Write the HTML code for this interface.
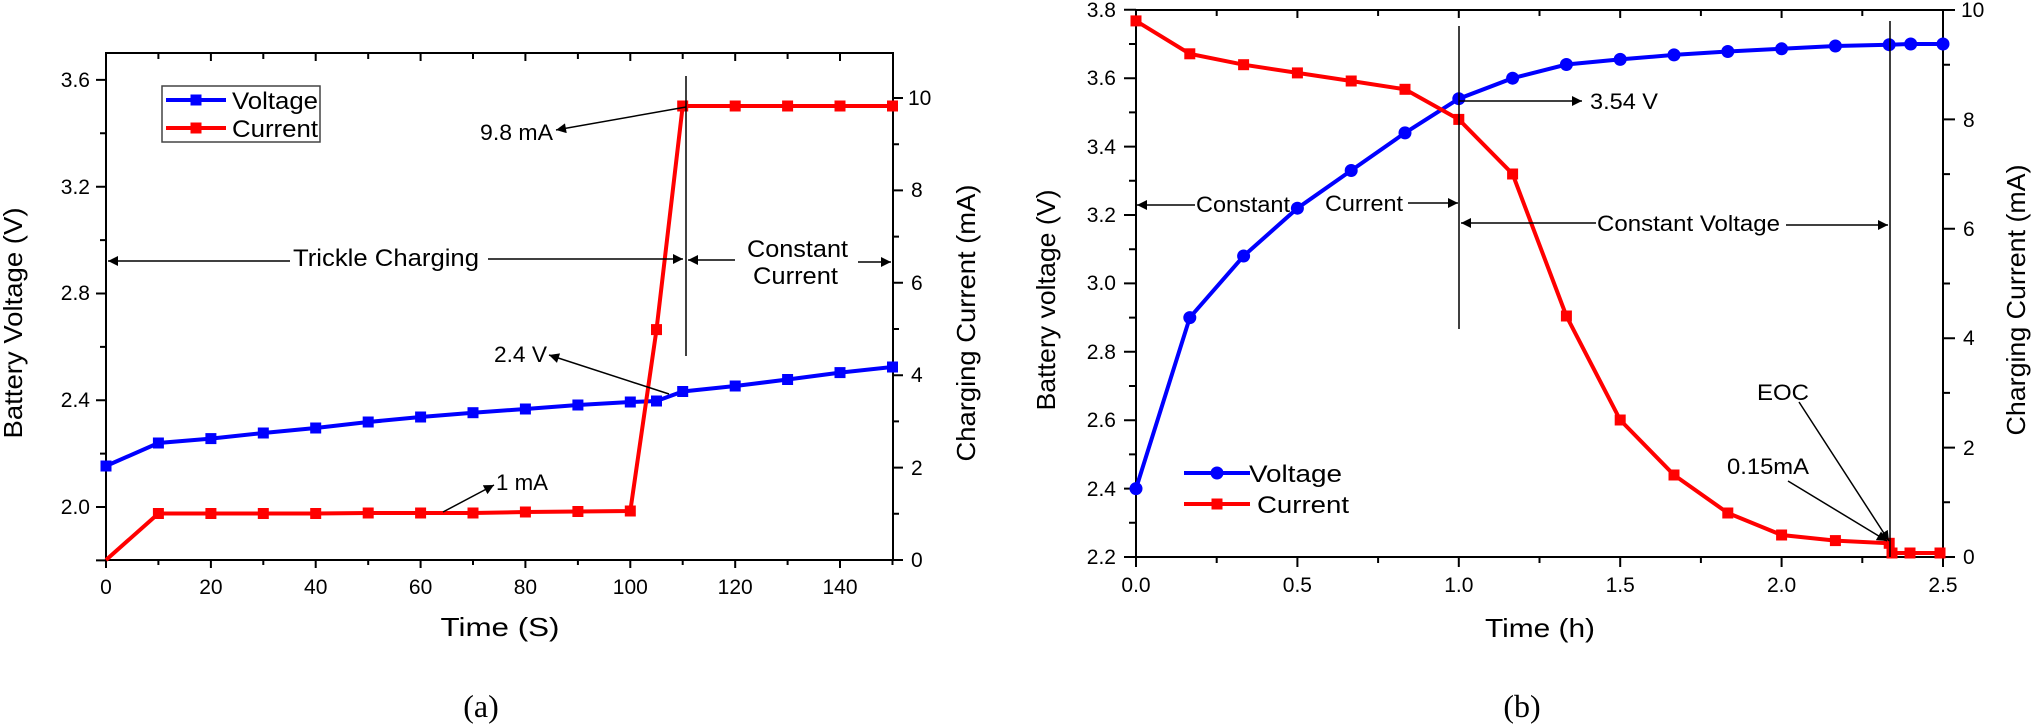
<!DOCTYPE html>
<html><head><meta charset="utf-8"><style>
html,body{margin:0;padding:0;background:#fff;}
svg{display:block;font-family:"Liberation Sans",Arial,sans-serif;}
</style></head><body>
<svg width="2031" height="725" viewBox="0 0 2031 725" xmlns="http://www.w3.org/2000/svg">
<defs>
<marker id="ah" viewBox="0 0 10 10" refX="10" refY="5" markerWidth="14" markerHeight="10" markerUnits="userSpaceOnUse" orient="auto"><path d="M0,0 L10,5 L0,10 z" fill="#000"/></marker>
<g id="sqA"><rect x="-5.5" y="-5.5" width="11" height="11"/></g>
</defs>

<!-- ================= (a) ================= -->
<g stroke="#000" stroke-width="2" fill="none">
<rect x="106" y="53" width="787" height="507"/>
<!-- bottom ticks -->
<path d="M106,560v8 M210.9,560v8 M315.7,560v8 M420.6,560v8 M525.4,560v8 M630.3,560v8 M735.2,560v8 M840,560v8
M158.4,560v5 M263.3,560v5 M368.2,560v5 M473,560v5 M577.9,560v5 M682.7,560v5 M787.6,560v5 M892.5,560v5"/>
<!-- top ticks -->
<path d="M210.9,53v8 M315.7,53v8 M420.6,53v8 M525.4,53v8 M630.3,53v8 M735.2,53v8 M840,53v8
M158.4,53v6 M263.3,53v6 M368.2,53v6 M473,53v6 M577.9,53v6 M682.7,53v6 M787.6,53v6"/>
<!-- left ticks -->
<path d="M106,560.4h-10 M106,507h-10 M106,400.2h-10 M106,293.5h-10 M106,186.7h-10 M106,79.9h-10
M106,453.6h-6 M106,346.9h-6 M106,240.1h-6 M106,133.3h-6"/>
<!-- right ticks -->
<path d="M893,560h10 M893,467.6h10 M893,375.2h10 M893,282.8h10 M893,190.4h10 M893,98h10
M893,513.8h6 M893,421.4h6 M893,329h6 M893,236.6h6 M893,144.2h6"/>
</g>
<g font-size="21" fill="#000" text-anchor="end">
<text x="90" y="514">2.0</text><text x="90" y="407">2.4</text><text x="90" y="300">2.8</text><text x="90" y="194">3.2</text><text x="90" y="87">3.6</text>
</g>
<g font-size="21" fill="#000" text-anchor="start">
<text x="911" y="567">0</text><text x="911" y="475">2</text><text x="911" y="382">4</text><text x="911" y="290">6</text><text x="911" y="197">8</text><text x="908" y="105">10</text>
</g>
<g font-size="21" fill="#000" text-anchor="middle">
<text x="106" y="594">0</text><text x="210.9" y="594">20</text><text x="315.7" y="594">40</text><text x="420.6" y="594">60</text><text x="525.4" y="594">80</text><text x="630.3" y="594">100</text><text x="735.2" y="594">120</text><text x="840" y="594">140</text>
</g>
<text x="500" y="636" font-size="26" text-anchor="middle" textLength="119" lengthAdjust="spacingAndGlyphs">Time (S)</text>
<text transform="translate(22,323) rotate(-90)" font-size="26" text-anchor="middle" textLength="231" lengthAdjust="spacingAndGlyphs">Battery Voltage (V)</text>
<text transform="translate(975,323) rotate(-90)" font-size="26" text-anchor="middle" textLength="277" lengthAdjust="spacingAndGlyphs">Charging Current (mA)</text>
<text x="481" y="717" font-family="Liberation Serif,serif" font-size="32" text-anchor="middle">(a)</text>

<!-- series a -->
<polyline fill="none" stroke="#0000ff" stroke-width="4" points="106,466 158.4,443 210.9,438.6 263.3,433 315.7,428 368.2,422 420.6,417 473,412.7 525.4,409 577.9,405 630.3,402 656.5,401 682.7,391.5 735.2,386 787.6,379.5 840,372.6 892.5,367"/>
<g fill="#0000ff">
<use href="#sqA" x="106" y="466"/><use href="#sqA" x="158.4" y="443"/><use href="#sqA" x="210.9" y="438.6"/><use href="#sqA" x="263.3" y="433"/><use href="#sqA" x="315.7" y="428"/><use href="#sqA" x="368.2" y="422"/><use href="#sqA" x="420.6" y="417"/><use href="#sqA" x="473" y="412.7"/><use href="#sqA" x="525.4" y="409"/><use href="#sqA" x="577.9" y="405"/><use href="#sqA" x="630.3" y="402"/><use href="#sqA" x="656.5" y="401"/><use href="#sqA" x="682.7" y="391.5"/><use href="#sqA" x="735.2" y="386"/><use href="#sqA" x="787.6" y="379.5"/><use href="#sqA" x="840" y="372.6"/><use href="#sqA" x="892.5" y="367"/>
</g>
<polyline fill="none" stroke="#ff0000" stroke-width="4" points="106,560 158.4,513.5 210.9,513.5 263.3,513.5 315.7,513.5 368.2,513 420.6,513 473,513 525.4,512 577.9,511.5 630.3,511 656.5,329.6 682.7,106 735.2,106 787.6,106 840,106 892.5,106"/>
<g fill="#ff0000">
<use href="#sqA" x="158.4" y="513.5"/><use href="#sqA" x="210.9" y="513.5"/><use href="#sqA" x="263.3" y="513.5"/><use href="#sqA" x="315.7" y="513.5"/><use href="#sqA" x="368.2" y="513"/><use href="#sqA" x="420.6" y="513"/><use href="#sqA" x="473" y="513"/><use href="#sqA" x="525.4" y="512"/><use href="#sqA" x="577.9" y="511.5"/><use href="#sqA" x="630.3" y="511"/><use href="#sqA" x="656.5" y="329.6"/><use href="#sqA" x="682.7" y="106"/><use href="#sqA" x="735.2" y="106"/><use href="#sqA" x="787.6" y="106"/><use href="#sqA" x="840" y="106"/><use href="#sqA" x="892.5" y="106"/>
</g>
<!-- legend a -->
<rect x="162" y="86" width="158" height="56" fill="#fff" stroke="#444" stroke-width="1.5"/>
<line x1="166" y1="100" x2="226" y2="100" stroke="#0000ff" stroke-width="4"/><use href="#sqA" x="196" y="100" fill="#0000ff"/>
<line x1="166" y1="128" x2="226" y2="128" stroke="#ff0000" stroke-width="4"/><use href="#sqA" x="196" y="128" fill="#ff0000"/>
<text x="232" y="109" font-size="24" textLength="86" lengthAdjust="spacingAndGlyphs">Voltage</text>
<text x="232" y="137" font-size="24" textLength="86" lengthAdjust="spacingAndGlyphs">Current</text>
<!-- annotations a -->
<g stroke="#000" stroke-width="1.5" fill="none">
<line x1="686" y1="76" x2="686" y2="356"/>
<line x1="686" y1="107" x2="556" y2="130" marker-end="url(#ah)"/>
<line x1="290" y1="261" x2="108" y2="261" marker-end="url(#ah)"/>
<line x1="488" y1="259" x2="683" y2="259" marker-end="url(#ah)"/>
<line x1="735" y1="260" x2="688" y2="260" marker-end="url(#ah)"/>
<line x1="858" y1="262" x2="891" y2="262" marker-end="url(#ah)"/>
<line x1="669" y1="394" x2="549" y2="355" marker-end="url(#ah)"/>
<line x1="443" y1="512" x2="494" y2="485" marker-end="url(#ah)"/>
</g>
<g font-size="22" fill="#000">
<text x="480" y="140" textLength="73" lengthAdjust="spacingAndGlyphs">9.8 mA</text>
<text x="293" y="266" font-size="24" textLength="186" lengthAdjust="spacingAndGlyphs">Trickle Charging</text>
<text x="747" y="257" font-size="24" textLength="101" lengthAdjust="spacingAndGlyphs">Constant</text>
<text x="753" y="284" font-size="24" textLength="85" lengthAdjust="spacingAndGlyphs">Current</text>
<text x="494" y="362" textLength="53" lengthAdjust="spacingAndGlyphs">2.4 V</text>
<text x="496" y="490" textLength="52" lengthAdjust="spacingAndGlyphs">1 mA</text>
</g>

<!-- ================= (b) ================= -->
<g stroke="#000" stroke-width="2" fill="none">
<rect x="1136" y="10" width="807" height="547"/>
<path d="M1136,557v10 M1297.4,557v10 M1458.8,557v10 M1620.2,557v10 M1781.6,557v10 M1943,557v10
M1216.7,557v6 M1378.1,557v6 M1539.5,557v6 M1700.9,557v6 M1862.3,557v6"/>
<path d="M1297.4,10v8 M1458.8,10v8 M1620.2,10v8 M1781.6,10v8
M1216.7,10v6 M1378.1,10v6 M1539.5,10v6 M1700.9,10v6 M1862.3,10v6"/>
<path d="M1136,557h-12 M1136,488.6h-12 M1136,420.2h-12 M1136,351.8h-12 M1136,283.4h-12 M1136,215h-12 M1136,146.6h-12 M1136,78.2h-12 M1136,9.8h-12
M1136,522.8h-7 M1136,454.4h-7 M1136,386h-7 M1136,317.6h-7 M1136,249.2h-7 M1136,180.8h-7 M1136,112.4h-7 M1136,44h-7"/>
<path d="M1943,557h12 M1943,447.6h12 M1943,338.2h12 M1943,228.8h12 M1943,119.4h12 M1943,10h12
M1943,502.3h7 M1943,392.9h7 M1943,283.5h7 M1943,174.1h7 M1943,64.7h7"/>
</g>
<g font-size="21" fill="#000" text-anchor="end">
<text x="1116" y="564">2.2</text><text x="1116" y="496">2.4</text><text x="1116" y="427">2.6</text><text x="1116" y="359">2.8</text><text x="1116" y="290">3.0</text><text x="1116" y="222">3.2</text><text x="1116" y="154">3.4</text><text x="1116" y="85">3.6</text><text x="1116" y="17">3.8</text>
</g>
<g font-size="21" fill="#000">
<text x="1963" y="564">0</text><text x="1963" y="455">2</text><text x="1963" y="345">4</text><text x="1963" y="236">6</text><text x="1963" y="127">8</text><text x="1961" y="17">10</text>
</g>
<g font-size="21" fill="#000" text-anchor="middle">
<text x="1136" y="592">0.0</text><text x="1297.4" y="592">0.5</text><text x="1458.8" y="592">1.0</text><text x="1620.2" y="592">1.5</text><text x="1781.6" y="592">2.0</text><text x="1943" y="592">2.5</text>
</g>
<text x="1540" y="637" font-size="26" text-anchor="middle" textLength="110" lengthAdjust="spacingAndGlyphs">Time (h)</text>
<text transform="translate(1055,300) rotate(-90)" font-size="26" text-anchor="middle" textLength="221" lengthAdjust="spacingAndGlyphs">Battery voltage (V)</text>
<text transform="translate(2025,300) rotate(-90)" font-size="26" text-anchor="middle" textLength="271" lengthAdjust="spacingAndGlyphs">Charging Current (mA)</text>
<text x="1522" y="717" font-family="Liberation Serif,serif" font-size="32" text-anchor="middle">(b)</text>

<!-- series b -->
<polyline fill="none" stroke="#0000ff" stroke-width="4" points="1136,488.6 1189.8,317.6 1243.6,256 1297.4,208.2 1351.2,170.5 1405,132.9 1458.8,98.7 1512.6,78.2 1566.4,64.5 1620.2,59.4 1674,54.9 1727.8,51.5 1781.6,48.8 1835.4,46 1889.2,44.7 1910.7,44 1943,44"/>
<g fill="#0000ff">
<circle cx="1136" cy="488.6" r="6.5"/><circle cx="1189.8" cy="317.6" r="6.5"/><circle cx="1243.6" cy="256" r="6.5"/><circle cx="1297.4" cy="208.2" r="6.5"/><circle cx="1351.2" cy="170.5" r="6.5"/><circle cx="1405" cy="132.9" r="6.5"/><circle cx="1458.8" cy="98.7" r="6.5"/><circle cx="1512.6" cy="78.2" r="6.5"/><circle cx="1566.4" cy="64.5" r="6.5"/><circle cx="1620.2" cy="59.4" r="6.5"/><circle cx="1674" cy="54.9" r="6.5"/><circle cx="1727.8" cy="51.5" r="6.5"/><circle cx="1781.6" cy="48.8" r="6.5"/><circle cx="1835.4" cy="46" r="6.5"/><circle cx="1889.2" cy="44.7" r="6.5"/><circle cx="1910.7" cy="44" r="6.5"/><circle cx="1943" cy="44" r="6.5"/>
</g>
<polyline fill="none" stroke="#ff0000" stroke-width="4" points="1136,20.9 1189.8,53.8 1243.6,64.7 1297.4,72.9 1351.2,81 1405,89.3 1458.8,119.4 1512.6,174 1566.4,316 1620.2,420 1674,475 1727.8,513 1781.6,535 1835.4,540.6 1889.2,543.3 1892,553 1910,553 1940,553"/>
<g fill="#ff0000">
<use href="#sqA" x="1136" y="20.9"/><use href="#sqA" x="1189.8" y="53.8"/><use href="#sqA" x="1243.6" y="64.7"/><use href="#sqA" x="1297.4" y="72.9"/><use href="#sqA" x="1351.2" y="81"/><use href="#sqA" x="1405" y="89.3"/><use href="#sqA" x="1458.8" y="119.4"/><use href="#sqA" x="1512.6" y="174"/><use href="#sqA" x="1566.4" y="316"/><use href="#sqA" x="1620.2" y="420"/><use href="#sqA" x="1674" y="475"/><use href="#sqA" x="1727.8" y="513"/><use href="#sqA" x="1781.6" y="535"/><use href="#sqA" x="1835.4" y="540.6"/><use href="#sqA" x="1889.2" y="543.3"/><use href="#sqA" x="1892" y="553"/><use href="#sqA" x="1910" y="553"/><use href="#sqA" x="1940" y="553"/>
</g>
<!-- legend b -->
<line x1="1184" y1="473" x2="1250" y2="473" stroke="#0000ff" stroke-width="4"/><circle cx="1217" cy="473" r="6.5" fill="#0000ff"/>
<line x1="1184" y1="504" x2="1250" y2="504" stroke="#ff0000" stroke-width="4"/><use href="#sqA" x="1217" y="504" fill="#ff0000"/>
<text x="1249" y="482" font-size="24" textLength="93" lengthAdjust="spacingAndGlyphs">Voltage</text>
<text x="1257" y="513" font-size="24" textLength="92" lengthAdjust="spacingAndGlyphs">Current</text>
<!-- annotations b -->
<g stroke="#000" stroke-width="1.5" fill="none">
<line x1="1459" y1="26" x2="1459" y2="329"/>
<line x1="1890" y1="21" x2="1890" y2="557"/>
<line x1="1459" y1="101" x2="1582" y2="101" marker-end="url(#ah)"/>
<line x1="1195" y1="205" x2="1137" y2="205" marker-end="url(#ah)"/>
<line x1="1408" y1="203" x2="1458" y2="203" marker-end="url(#ah)"/>
<line x1="1596" y1="223" x2="1461" y2="223" marker-end="url(#ah)"/>
<line x1="1786" y1="225" x2="1888" y2="225" marker-end="url(#ah)"/>
<line x1="1799" y1="402" x2="1889" y2="541" marker-end="url(#ah)"/>
<line x1="1788" y1="481" x2="1887" y2="541" marker-end="url(#ah)"/>
</g>
<g font-size="22" fill="#000">
<text x="1590" y="109" textLength="68" lengthAdjust="spacingAndGlyphs">3.54 V</text>
<text x="1196" y="212" textLength="94" lengthAdjust="spacingAndGlyphs">Constant</text>
<text x="1325" y="211" textLength="78" lengthAdjust="spacingAndGlyphs">Current</text>
<text x="1597" y="231" textLength="183" lengthAdjust="spacingAndGlyphs">Constant Voltage</text>
<text x="1757" y="400" textLength="52" lengthAdjust="spacingAndGlyphs">EOC</text>
<text x="1727" y="474" textLength="82" lengthAdjust="spacingAndGlyphs">0.15mA</text>
</g>
</svg>
</body></html>
